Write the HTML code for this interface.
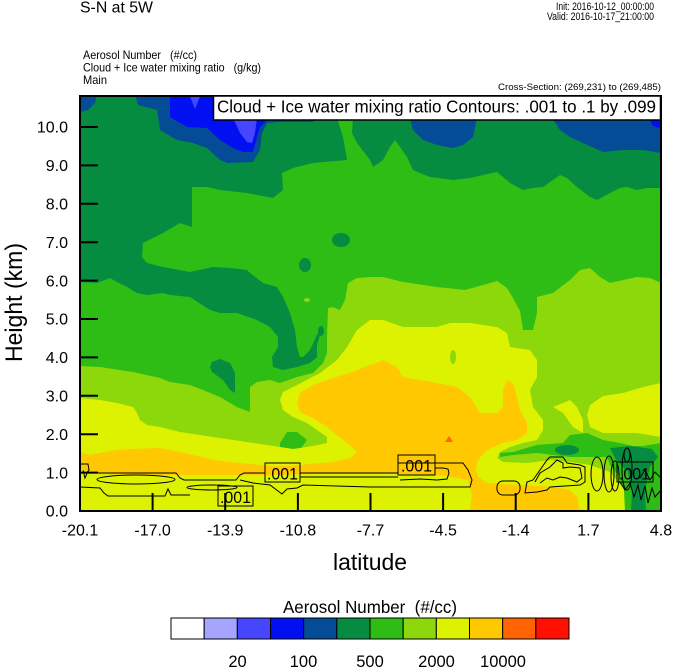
<!DOCTYPE html>
<html><head><meta charset="utf-8"><style>
html,body{margin:0;padding:0;background:#fff;}
svg{display:block;}
text{font-family:"Liberation Sans",Arial,sans-serif;fill:#000;}
</style></head><body>
<svg width="674" height="668" viewBox="0 0 674 668" xmlns="http://www.w3.org/2000/svg">
<defs><clipPath id="pc"><rect x="80" y="96" width="581" height="415"/></clipPath></defs>
<rect width="674" height="668" fill="#fff"/>
<g clip-path="url(#pc)">
<rect x="80" y="96" width="581" height="415" fill="#068c40"/>
<!-- blues -->
<polygon fill="#044d96" points="80,94 97,94 95,103 88,110 80,112"/>
<polygon fill="#044d96" points="135,94 138,105 157,110 160,130 177,140 193,143 207,148 220,160 227,163 253,162 260,150 262,133 267,123 280,122 313,122 317,118 317,94"/>
<polygon fill="#0010f0" points="170,94 170,117 187,127 207,128 220,140 233,148 243,152 253,152 257,137 260,127 267,120 267,94"/>
<polygon fill="#4646ff" points="189,94 195,109 201,94"/>
<polygon fill="#4646ff" points="233,118 240,133 247,142 252,143 255,133 257,118"/>
<polygon fill="#044d96" points="410,118 413,130 423,140 437,145 453,148 463,145 473,137 477,118"/>
<polygon fill="#044d96" points="552,118 560,130 570,137 583,143 603,152 623,150 643,150 661,153 661,118"/>
<polygon fill="#0010f0" points="650,118 652,125 658,128 661,127 661,118"/>
<!-- green -->
<polygon fill="#2dbd14" points="80,282 97,283 110,278 117,282 127,287 137,293 147,295 163,293 170,295 190,297 210,310 220,313 237,313 257,320 270,327 278,337 278,347 272,357 273,367 283,370 297,367 310,363 317,357 317,345 320,335 323,328 321,327 316,337 310,350 303,357 300,357 297,347 295,330 290,313 283,297 277,287 263,283 250,273 247,270 230,268 213,267 190,272 163,267 147,263 142,257 143,243 163,233 180,223 192,227 192,187 207,187 220,190 247,193 273,198 283,190 282,173 293,168 313,163 347,160 343,137 337,118 353,118 352,133 357,143 370,160 373,167 383,160 390,147 395,140 400,147 407,157 413,170 420,173 430,177 453,180 470,178 483,175 497,172 503,177 510,183 523,190 533,188 543,187 553,180 560,175 567,178 577,187 590,197 597,200 610,193 620,188 627,187 637,190 647,188 661,188 661,511 80,511"/>
<ellipse cx="341" cy="240" rx="9" ry="7" fill="#068c40"/>
<ellipse cx="305" cy="265" rx="6" ry="7" fill="#068c40"/>
<polygon fill="#068c40" points="212,362 220,359 230,363 235,373 235,393 230,390 223,380 212,372 210,367"/>
<ellipse cx="321" cy="331" rx="3" ry="5" fill="#068c40"/>
<!-- yellow-green -->
<polygon fill="#8cd80a" points="80,366 100,367 133,372 160,378 170,382 190,385 203,390 220,397 237,407 250,412 250,387 257,382 270,380 280,383 297,377 313,373 323,363 327,353 327,337 328,308 333,307 340,310 345,300 348,283 357,278 370,277 383,277 403,282 437,287 465,290 483,285 497,281 507,288 513,298 520,311 523,330 533,330 537,313 537,297 553,293 570,280 580,270 590,268 600,277 610,283 623,280 637,277 650,278 661,283 661,511 80,511"/>
<ellipse cx="307" cy="300" rx="3" ry="2" fill="#8cd80a"/>
<polygon fill="#2dbd14" points="280,443 287,432 297,432 307,440 300,450 280,452"/>
<!-- yellow -->
<polygon fill="#dcf200" points="80,398 100,400 117,403 133,407 137,413 140,420 147,425 160,427 180,432 213,437 247,442 267,445 293,449 313,446 327,443 327,437 317,430 307,423 293,417 283,410 280,400 283,392 297,385 320,373 337,360 347,347 357,330 370,320 383,320 403,327 437,327 450,323 470,323 497,327 507,333 510,347 530,350 537,360 537,377 530,390 533,407 543,420 543,430 537,440 523,443 510,447 500,452 497,458 503,462 527,463 550,460 570,462 590,465 610,472 625,490 630,511 80,511"/>
<polygon fill="#dcf200" points="590,405 603,396 623,393 643,387 661,383 661,437 637,433 603,433 590,427 587,415"/>
<polygon fill="#dcf200" points="553,407 570,400 577,407 583,420 583,433 573,427 563,413"/>
<ellipse cx="453" cy="357" rx="3" ry="7" fill="#8cd80a"/>
<!-- orange -->
<polygon fill="#ffc800" points="80,452 90,455 100,453 117,450 133,449 160,448 180,452 197,456 213,460 230,462 250,464 270,466 290,466 310,464 333,462 350,458 357,452 347,443 337,435 327,427 313,418 300,412 297,403 300,393 313,385 333,378 353,372 367,366 380,362 383,360 397,367 403,377 420,380 437,383 457,387 470,397 480,413 497,413 503,407 503,390 507,380 513,383 517,397 520,410 527,423 527,433 517,440 503,443 493,447 485,452 478,460 476,470 478,477 487,483 503,484 520,485 537,486 553,487 570,490 577,497 580,511 470,511 472,495 468,480 440,475 400,474 370,474 340,474 310,474 280,475 250,475 220,475 190,475 160,475 130,475 100,474 85,470 80,468"/>
<polygon fill="#ff6400" points="445,442 449,436 453,442"/>
<!-- bottom right greens -->
<polygon fill="#2dbd14" points="500,453 513,452 537,445 563,443 570,435 587,433 603,440 620,443 637,447 661,443 661,457 637,460 620,457 603,457 587,457 570,457 553,455 537,453 513,455 500,457"/>
<polygon fill="#2dbd14" points="605,452 615,446 645,446 661,448 661,511 625,511 624,490 618,475 610,465"/>
<ellipse cx="567" cy="450" rx="12" ry="5" fill="#068c40"/>
<polygon fill="#068c40" points="610,448 630,446 652,449 658,457 650,467 647,480 645,495 646,511 631,511 632,492 628,472 616,460"/>
<!-- contours -->
<g fill="none" stroke="#000" stroke-width="1">
<path d="M80,473 H176 L180,478 L184,480 H236 L240,475 L244,473 H265"/>
<path d="M300,473 H398"/>
<path d="M300,477 H398"/>
<ellipse cx="136" cy="479.5" rx="39" ry="4.5"/>
<path d="M80,487 L100,488 L104,493 L108,496 H165 L168,489 L171,495 H190"/>
<ellipse cx="212" cy="487.5" rx="25" ry="2.5"/>
<path d="M240,480 L253,483 L270,485 L278,491 L282,494 L287,489 L297,488 L303,485 L370,487"/>
<path d="M398,463 H463 L468,470 L472,480 L470,487 H370"/>
<path d="M400,480 L420,479 L437,480 L447,479 L449,473 L448,469 L443,468 L435,468"/>
<path d="M80,464 H88 L89,470 L87,473"/>
<path d="M83,470 L85,478 L88,471"/>
<rect x="497" y="481" width="23" height="14" rx="6"/>
<path d="M525,493 L527,482 L533,480 L540,470 L547,460 L550,457 L563,457 L567,463 L580,465 L585,467 L585,482 L580,485 L550,487 L547,490 L537,492 Z"/>
<path d="M535,482 L540,473 L550,467 L557,460 L563,463 L563,468 L570,467 L580,468 L582,478 L577,482 L567,478 L560,477 L553,480 L547,478 L540,483"/>
<ellipse cx="597" cy="474" rx="6" ry="17"/>
<ellipse cx="609" cy="474" rx="5" ry="18"/>
<ellipse cx="615" cy="476" rx="4" ry="15"/>
<ellipse cx="627" cy="469" rx="5" ry="21"/>
<ellipse cx="627" cy="455" rx="3" ry="7"/>
<path d="M620,482 L625,490 L630,483 L634,497 L638,485 L641,500 L645,486 L648,503 L652,488 L655,497 L661,490"/>
<path d="M640,478 L645,470 L650,480 L655,472 L661,478"/>
<rect x="265" y="463" width="35" height="19"/>
<rect x="218" y="486" width="35" height="20"/>
<rect x="398" y="455" width="37" height="20"/>
<rect x="617" y="462" width="36" height="20"/>
</g>
<text x="267" y="479.5" font-size="17" textLength="31" lengthAdjust="spacingAndGlyphs">.001</text>
<text x="220" y="503" font-size="17" textLength="31" lengthAdjust="spacingAndGlyphs">.001</text>
<text x="401" y="471.5" font-size="17" textLength="31" lengthAdjust="spacingAndGlyphs">.001</text>
<text x="619" y="479.5" font-size="17" textLength="31" lengthAdjust="spacingAndGlyphs">.001</text>
</g>
<!-- frame -->
<rect x="80" y="96" width="581" height="415" fill="none" stroke="#000" stroke-width="2"/>
<g stroke="#000" stroke-width="2">
<line x1="80" y1="127" x2="98" y2="127"/>
<line x1="80" y1="165.4" x2="98" y2="165.4"/>
<line x1="80" y1="203.8" x2="98" y2="203.8"/>
<line x1="80" y1="242.2" x2="98" y2="242.2"/>
<line x1="80" y1="280.6" x2="98" y2="280.6"/>
<line x1="80" y1="319" x2="98" y2="319"/>
<line x1="80" y1="357.4" x2="98" y2="357.4"/>
<line x1="80" y1="395.8" x2="98" y2="395.8"/>
<line x1="80" y1="434.2" x2="98" y2="434.2"/>
<line x1="80" y1="472.6" x2="98" y2="472.6"/>
<line x1="152.6" y1="511" x2="152.6" y2="493"/>
<line x1="225.2" y1="511" x2="225.2" y2="493"/>
<line x1="297.9" y1="511" x2="297.9" y2="493"/>
<line x1="370.5" y1="511" x2="370.5" y2="493"/>
<line x1="443.1" y1="511" x2="443.1" y2="493"/>
<line x1="515.7" y1="511" x2="515.7" y2="493"/>
<line x1="588.4" y1="511" x2="588.4" y2="493"/>
</g>
<!-- legend box -->
<rect x="213.5" y="96" width="447" height="24" fill="#fff" stroke="#000" stroke-width="1.5"/>
<text x="217" y="112.7" font-size="17.5" textLength="439" lengthAdjust="spacingAndGlyphs">Cloud + Ice water mixing ratio Contours: .001 to .1 by .099</text>
<!-- y tick labels -->
<g font-size="16" text-anchor="end">
<text x="68" y="132.7">10.0</text>
<text x="68" y="171.1">9.0</text>
<text x="68" y="209.5">8.0</text>
<text x="68" y="247.9">7.0</text>
<text x="68" y="286.3">6.0</text>
<text x="68" y="324.7">5.0</text>
<text x="68" y="363.1">4.0</text>
<text x="68" y="401.5">3.0</text>
<text x="68" y="439.9">2.0</text>
<text x="68" y="478.3">1.0</text>
<text x="68" y="516.7">0.0</text>
</g>
<g font-size="16" text-anchor="middle">
<text x="80" y="535.5">-20.1</text>
<text x="152.6" y="535.5">-17.0</text>
<text x="225.2" y="535.5">-13.9</text>
<text x="297.9" y="535.5">-10.8</text>
<text x="370.5" y="535.5">-7.7</text>
<text x="443.1" y="535.5">-4.5</text>
<text x="515.7" y="535.5">-1.4</text>
<text x="588.4" y="535.5">1.7</text>
<text x="661" y="535.5">4.8</text>
</g>
<text x="333" y="570" font-size="23" textLength="74" lengthAdjust="spacingAndGlyphs">latitude</text>
<text transform="translate(22,362) rotate(-90)" x="0" y="0" font-size="24" textLength="119" lengthAdjust="spacingAndGlyphs">Height (km)</text>
<!-- titles -->
<text x="80" y="12.5" font-size="16" textLength="73" lengthAdjust="spacingAndGlyphs">S-N at 5W</text>
<text x="83" y="59" font-size="12" textLength="114" lengthAdjust="spacingAndGlyphs" style="white-space:pre">Aerosol Number   (#/cc)</text>
<text x="83" y="71.5" font-size="12" textLength="178" lengthAdjust="spacingAndGlyphs" style="white-space:pre">Cloud + Ice water mixing ratio   (g/kg)</text>
<text x="83" y="84" font-size="12" textLength="24" lengthAdjust="spacingAndGlyphs">Main</text>
<text x="556" y="10" font-size="11" textLength="98" lengthAdjust="spacingAndGlyphs">Init: 2016-10-12_00:00:00</text>
<text x="547" y="20" font-size="11" textLength="107" lengthAdjust="spacingAndGlyphs">Valid: 2016-10-17_21:00:00</text>
<text x="498" y="90" font-size="9.5" textLength="163" lengthAdjust="spacingAndGlyphs">Cross-Section: (269,231) to (269,485)</text>
<!-- colorbar -->
<text x="283" y="613" font-size="17.5" textLength="174" lengthAdjust="spacingAndGlyphs" style="white-space:pre">Aerosol Number  (#/cc)</text>
<g stroke="#000" stroke-width="1">
<rect x="171" y="618" width="33.17" height="21" fill="#ffffff"/>
<rect x="204.17" y="618" width="33.17" height="21" fill="#a5a5ff"/>
<rect x="237.33" y="618" width="33.17" height="21" fill="#4646ff"/>
<rect x="270.5" y="618" width="33.17" height="21" fill="#0010f0"/>
<rect x="303.67" y="618" width="33.17" height="21" fill="#044d96"/>
<rect x="336.83" y="618" width="33.17" height="21" fill="#068c40"/>
<rect x="370" y="618" width="33.17" height="21" fill="#2dbd14"/>
<rect x="403.17" y="618" width="33.17" height="21" fill="#8cd80a"/>
<rect x="436.33" y="618" width="33.17" height="21" fill="#dcf200"/>
<rect x="469.5" y="618" width="33.17" height="21" fill="#ffc800"/>
<rect x="502.67" y="618" width="33.17" height="21" fill="#ff6400"/>
<rect x="535.83" y="618" width="33.17" height="21" fill="#ff1000"/>
</g>
<g font-size="16.5" text-anchor="middle">
<text x="237.5" y="667">20</text>
<text x="303.5" y="667">100</text>
<text x="370" y="667">500</text>
<text x="436.5" y="667">2000</text>
<text x="503" y="667">10000</text>
</g>
</svg>
</body></html>
